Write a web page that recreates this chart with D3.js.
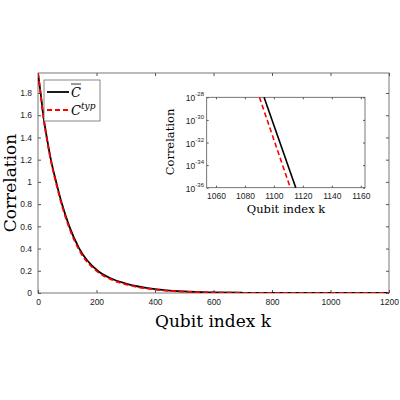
<!DOCTYPE html><html><head><script src="https://cdn.jsdelivr.net/npm/d3@7"></script>
<style>body{margin:0;background:#fff}</style></head><body><svg id="c" width="400" height="400"></svg><script>
const kMain=[0,9,18,30,44,62,82,107,141,204,250,300,400,500,600,700,800,1000,1200];
const cBar=[1.98,1.8,1.6,1.4,1.2,1.0,0.8,0.6,0.4,0.2,0.13,0.085,0.035,0.014,0.0055,0.002,0.0008,0.0001,0.00001];
const cTyp=[1.98,1.79,1.59,1.39,1.19,0.985,0.785,0.585,0.385,0.19,0.122,0.078,0.031,0.012,0.0045,0.0016,0.0006,0.00008,0.00001];
const kInsetBar=[1093.2,1115.1], cInsetBar=[1e-28,1e-36];
const kInsetTyp=[1090,1111.3], cInsetTyp=[1e-28,1e-36];
const xTicks=[0,200,400,600,800,1000,1200], yTicks=[0,0.2,0.4,0.6,0.8,1,1.2,1.4,1.6,1.8];
const ixTicks=[1060,1080,1100,1120,1140,1160], iyTicks=[-36,-34,-32,-30,-28];
const svg=d3.select("#c");
const x=d3.scaleLinear([0,1200],[38,389]), y=d3.scaleLinear([0,1.98],[293,73]);
function frame(x0,x1,y0,y1){svg.append("rect").attr("x",x0).attr("y",y0).attr("width",x1-x0).attr("height",y1-y0).attr("fill","#fff").attr("stroke","#555").attr("stroke-width",0.8);}
frame(38,389,73,293);
svg.append("g").attr("transform","translate(0,293)").call(d3.axisBottom(x).tickValues(xTicks).tickFormat(d3.format("d")).tickSize(-3).tickPadding(6));
svg.append("g").attr("transform","translate(38,0)").call(d3.axisLeft(y).tickValues(yTicks).tickFormat(d3.format("~g")).tickSize(-3).tickPadding(6));
svg.append("g").attr("transform","translate(389,0)").call(d3.axisRight(y).tickValues(yTicks).tickFormat("").tickSize(-3));
svg.append("g").attr("transform","translate(0,73)").call(d3.axisTop(x).tickValues(xTicks).tickFormat("").tickSize(-3));
const line=d3.line().x(d=>x(d[0])).y(d=>y(d[1])).curve(d3.curveMonotoneX);
svg.append("clipPath").attr("id","cp").append("rect").attr("x",38).attr("y",73).attr("width",351).attr("height",220);
svg.append("path").attr("clip-path","url(#cp)").attr("d",line(kMain.map((k,i)=>[k,cBar[i]]))).attr("fill","none").attr("stroke","#000").attr("stroke-width",1.8);
svg.append("path").attr("clip-path","url(#cp)").attr("d",line(kMain.map((k,i)=>[k,cTyp[i]]))).attr("fill","none").attr("stroke","#f00").attr("stroke-width",1.8).attr("stroke-dasharray","5,3");
svg.append("text").attr("x",213).attr("y",327).attr("text-anchor","middle").attr("font-family","DejaVu Serif, Liberation Serif").attr("font-size",17).text("Qubit index k");
svg.append("text").attr("transform","translate(16,183) rotate(-90)").attr("text-anchor","middle").attr("font-family","DejaVu Serif, Liberation Serif").attr("font-size",17).text("Correlation");
svg.append("rect").attr("x",44).attr("y",80).attr("width",56).attr("height",41).attr("fill","#fff").attr("stroke","#555").attr("stroke-width",0.7);
svg.append("line").attr("x1",47).attr("x2",69).attr("y1",92).attr("y2",92).attr("stroke","#000").attr("stroke-width",1.8);
svg.append("line").attr("x1",47).attr("x2",69).attr("y1",110).attr("y2",110).attr("stroke","#f00").attr("stroke-width",1.8).attr("stroke-dasharray","5,3");
svg.append("text").attr("x",71).attr("y",97).attr("font-family","DejaVu Serif").attr("font-style","italic").attr("font-size",13).text("C");
svg.append("line").attr("x1",71).attr("x2",81).attr("y1",84).attr("y2",84).attr("stroke","#000").attr("stroke-width",0.8);
const t=svg.append("text").attr("x",71).attr("y",115).attr("font-family","DejaVu Serif").attr("font-style","italic").attr("font-size",13).text("C");
t.append("tspan").attr("dy",-6).attr("font-size",9).text("typ");
const ix=d3.scaleLinear([1053.6,1162.9],[206.7,365]), iy=d3.scaleLog([1e-36,1e-28],[187.7,97.3]);
frame(206.7,365,97.3,187.7);
svg.append("g").attr("transform","translate(0,187.7)").call(d3.axisBottom(ix).tickValues(ixTicks).tickFormat(d3.format("d")).tickSize(-2).tickPadding(5));
svg.append("g").attr("transform","translate(0,97.3)").call(d3.axisTop(ix).tickValues(ixTicks).tickFormat("").tickSize(-2));
svg.append("g").attr("transform","translate(206.7,0)").call(d3.axisLeft(iy).tickValues(iyTicks.map(e=>Math.pow(10,e))).tickFormat("").tickSize(-2));
svg.append("g").attr("transform","translate(365,0)").call(d3.axisRight(iy).tickValues(iyTicks.map(e=>Math.pow(10,e))).tickFormat("").tickSize(-2));
iyTicks.forEach(e=>{const tt=svg.append("text").attr("x",204).attr("y",iy(Math.pow(10,e))+4).attr("text-anchor","end").attr("font-family","Liberation Sans, Arial").attr("font-size",8.5).attr("fill","#222").text("10");tt.append("tspan").attr("dy",-5).attr("font-size",6).text(e);});
svg.selectAll(".domain").attr("stroke","none");
svg.selectAll(".tick line").attr("stroke","#555");
svg.selectAll(".tick text").attr("font-family","Liberation Sans, Arial").attr("font-size",8.5).attr("fill","#222");
const il=d3.line().x(d=>ix(d[0])).y(d=>iy(d[1]));
svg.append("path").attr("d",il(kInsetBar.map((k,i)=>[k,cInsetBar[i]]))).attr("stroke","#000").attr("stroke-width",1.6).attr("fill","none");
svg.append("path").attr("d",il(kInsetTyp.map((k,i)=>[k,cInsetTyp[i]]))).attr("stroke","#f00").attr("stroke-width",1.6).attr("fill","none").attr("stroke-dasharray","5,3");
svg.append("text").attr("x",286).attr("y",213).attr("text-anchor","middle").attr("font-family","DejaVu Serif, Liberation Serif").attr("font-size",11.5).text("Qubit index k");
svg.append("text").attr("transform","translate(174,142) rotate(-90)").attr("text-anchor","middle").attr("font-family","DejaVu Serif, Liberation Serif").attr("font-size",11.5).text("Correlation");
</script></body></html>
